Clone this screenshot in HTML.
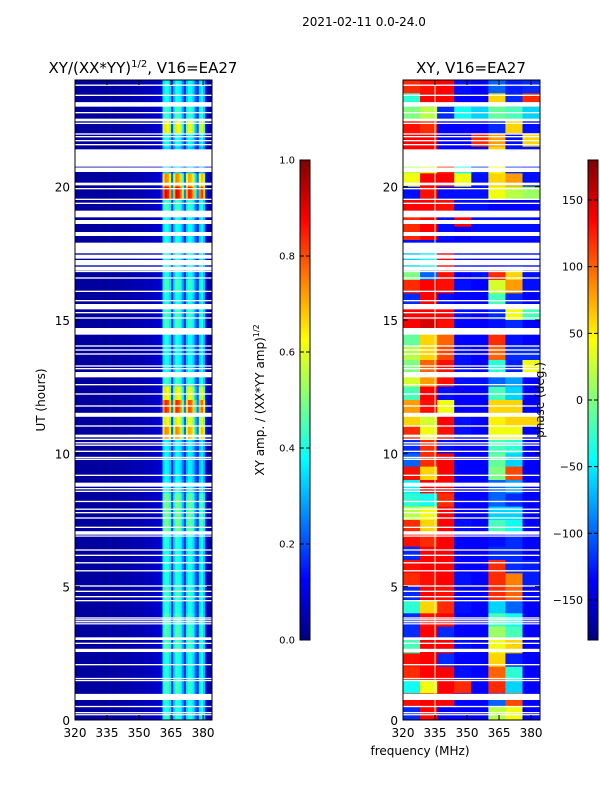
<!DOCTYPE html>
<html><head><meta charset="utf-8">
<style>
body{margin:0;background:#fff;}
svg{display:block;font-family:"DejaVu Sans","Liberation Sans",sans-serif;}
</style></head>
<body>
<svg id="fig" width="600" height="800" viewBox="0 0 600 800">
<text x="364" y="26" font-size="12" text-anchor="middle">2021-02-11 0.0-24.0</text>
<text x="143" y="73" font-size="15" text-anchor="middle">XY/(XX*YY)<tspan font-size="10" dy="-6">1/2</tspan><tspan dy="6">, V16=EA27</tspan></text>
<text x="471" y="73" font-size="15" text-anchor="middle">XY, V16=EA27</text>
<g id="left"></g>
<g id="right"></g>
<g id="axes"></g>
<text transform="translate(45,400) rotate(-90)" font-size="12" text-anchor="middle">UT (hours)</text>
<text x="420" y="755" font-size="12" text-anchor="middle">frequency (MHz)</text>
<text transform="translate(264,400) rotate(-90)" font-size="12" text-anchor="middle">XY amp. / (XX*YY amp)<tspan font-size="8" dy="-5">1/2</tspan></text>
<text transform="translate(544,400) rotate(-90)" font-size="12" text-anchor="middle">phase (deg.)</text>
</svg>
<script>
// ---------- data ----------
const hourRange = [0, 24];
const freqRange = [320, 384.2];
const xTicks = [320, 335, 350, 365, 380];
const yTicks = [0, 5, 10, 15, 20];
const ampTicks = ['0.0','0.2','0.4','0.6','0.8','1.0'];
const phaseTicks = [-150,-100,-50,0,50,100,150];
// amplitude: 1-MHz channels from 320
const ampBase = [0.03,0.03,0.03,0.03,0.03,0.03,0.03,0.03,0.03,0.03,0.03,0.03,0.03,0.03,0.03,0.03,0.05,0.03,0.03,0.03,0.04,0.04,0.04,0.04,0.04,0.04,0.05,0.05,0.05,0.05,0.05,0.05,0.06,0.06,0.06,0.06,0.06,0.07,0.07,0.08,0.08,0.1,0.1,0.1,0.1,0.1,0.1,0.1,0.1,0.1,0.1,0.1,0.1,0.1,0.1,0.1,0.1,0.1,0.1,0.1,0.06,0.04,0.03,0.03];
const ampBand = [0,0,0,0,0,0,0,0,0,0,0,0,0,0,0,0,0,0,0,0,0,0,0,0,0,0,0,0,0,0,0,0,0,0,0,0,0,0,0,0,0.1,0.85,1,0.95,0.75,0.2,0.75,1,0.95,0.85,0.55,0.2,0.75,0.95,0.9,0.75,0.4,0.2,0.8,0.9,0.75,0.15,0.03,0];
// band amplitude per half-hour row, from 24h down to 0h
const ampRow = [0.3,0.3,0.35,0.55,0.3,0.25,0.25,0.65,0.8,0.35,0.3,0.3,0.3,0.3,0.3,0.35,0.3,0.35,0.35,0.3,0.3,0.3,0.35,0.55,0.75,0.55,0.65,0.28,0.28,0.28,0.3,0.4,0.4,0.4,0.32,0.32,0.32,0.32,0.35,0.32,0.35,0.36,0.36,0.32,0.32,0.35,0.32,0.32];
// phase (deg) per half-hour row (24h->0h) x 8 MHz channel
const phaseGrid = [
[120,130,135,-130,-135,-100,-125,-120],
[-30,135,135,-135,-135,60,-120,120],
[0,20,-120,-40,-60,-10,-20,-60],
[130,120,-135,-135,-135,-120,60,-130],
[135,135,-135,-135,120,80,-130,60],
[135,135,-135,-135,-135,60,-130,-130],
[20,30,120,-40,-120,40,-120,-130],
[40,135,135,40,-130,60,80,-130],
[-130,130,-130,-130,-130,40,20,10],
[135,135,130,-130,-130,-135,-135,-135],
[120,135,-130,135,-130,-130,-130,-130],
[120,135,-130,-135,-130,-130,-130,-130],
[-130,-130,-135,-135,-135,-135,-135,-135],
[-60,-40,135,-130,-135,-135,-135,-135],
[0,-100,130,-135,-130,120,60,-130],
[120,135,130,-130,-135,30,80,-130],
[-120,135,-130,-135,-135,-20,-120,-135],
[135,135,135,-130,-135,-120,40,-20],
[135,150,130,-135,-135,-130,-120,-135],
[-10,60,100,-135,-135,120,-130,-135],
[20,60,110,-130,-135,100,-120,-120],
[0,100,130,-130,-135,-30,-125,40],
[30,80,130,-130,-130,-100,-80,-135],
[-20,135,-130,-135,-135,-20,-60,-135],
[80,130,40,-135,-135,60,60,-135],
[60,30,135,-130,-135,50,60,60],
[120,40,130,-130,-135,40,40,-135],
[-120,120,-130,-135,-135,-20,-30,-135],
[-100,120,135,-135,-135,-10,-60,-135],
[130,60,135,-135,-135,0,110,-135],
[-50,135,135,-135,-135,-100,-80,-135],
[-30,-40,120,-135,-135,-100,-120,-135],
[20,40,135,-135,-135,-60,-60,-135],
[120,60,135,-130,-135,-20,-40,-135],
[130,120,135,-135,-135,-130,-120,-135],
[-120,135,135,-135,-135,-120,-120,-135],
[130,135,135,-135,-135,120,-120,-125],
[120,130,135,-130,-135,120,90,-125],
[-120,135,130,-135,-135,120,100,-135],
[-30,60,120,-130,-135,-60,-100,-135],
[-120,130,135,-135,-135,-20,-40,-135],
[-120,135,-120,-135,-135,10,-20,-135],
[-20,135,135,-130,-135,40,60,-135],
[130,135,-120,-135,-135,60,-125,-135],
[120,135,135,-130,-135,100,-30,-135],
[-40,40,135,120,-135,120,-60,-135],
[130,135,135,-135,-135,-100,110,-135],
[-120,135,-135,-135,-135,20,40,-135]];
// flagged (blank) time ranges in hours [start, end]
const gaps = [[23.78,23.83],[23.4,23.45],[23.0,23.17],[22.75,22.8],[22.5,22.55],[22.45,22.5],[22.35,22.4],[21.95,22.0],[21.85,21.9],[21.7,21.75],[21.55,21.6],[20.75,21.4],[20.55,20.72],[20.05,20.15],[19.9,19.95],[19.5,19.55],[19.35,19.4],[18.85,19.1],[18.6,18.75],[18.15,18.3],[17.5,17.9],[17.3,17.45],[17.05,17.25],[16.85,17.0],[16.8,16.84],[16.55,16.6],[16.05,16.1],[15.7,15.75],[15.4,15.6],[15.25,15.3],[15.05,15.1],[14.65,14.7],[14.45,14.7],[14.0,14.05],[13.85,13.9],[13.7,13.75],[13.25,13.3],[13.15,13.2],[12.85,13.05],[12.55,12.6],[12.2,12.25],[11.75,11.8],[11.37,11.52],[11.0,11.05],[10.6,10.7],[10.5,10.55],[10.37,10.42],[10.28,10.33],[10.05,10.1],[9.82,9.87],[9.75,9.8],[9.15,9.2],[8.75,8.9],[8.65,8.7],[8.55,8.6],[8.17,8.22],[7.88,7.93],[7.75,7.8],[7.55,7.6],[7.2,7.25],[6.95,7.08],[6.88,6.92],[6.35,6.4],[6.15,6.2],[5.87,5.92],[5.57,5.62],[5.0,5.05],[4.8,4.85],[4.6,4.65],[4.45,4.5],[3.8,3.85],[3.75,3.78],[3.66,3.71],[3.6,3.63],[3.0,3.1],[2.85,2.9],[2.55,2.67],[2.05,2.1],[1.53,1.58],[1.48,1.5],[0.75,0.98],[0.48,0.53],[0.25,0.3],[0.18,0.22]];

// ---------- helpers ----------
const NS='http://www.w3.org/2000/svg';
const PT=80, PB=720;
const LX0=75, LX1=212, RX0=403, RX1=540;
function yScale(h){return PB-(h-hourRange[0])/(hourRange[1]-hourRange[0])*(PB-PT);}
function xScaleL(f){return LX0+(f-freqRange[0])/(freqRange[1]-freqRange[0])*(LX1-LX0);}
function xScaleR(f){return RX0+(f-freqRange[0])/(freqRange[1]-freqRange[0])*(RX1-RX0);}
function cl(v){return Math.max(0,Math.min(1,v));}
function jet(v){v=cl(v);const r=cl(1.5-Math.abs(4*v-3)),g=cl(1.5-Math.abs(4*v-2)),b=cl(1.5-Math.abs(4*v-1));
 return 'rgb('+Math.round(r*255)+','+Math.round(g*255)+','+Math.round(b*255)+')';}
function rect(parent,x,y,w,h,fill){const r=document.createElementNS(NS,'rect');
 r.setAttribute('x',x);r.setAttribute('y',y);r.setAttribute('width',w);r.setAttribute('height',h);r.setAttribute('fill',fill);parent.appendChild(r);return r;}
function line(parent,x1,y1,x2,y2,stroke,w){const l=document.createElementNS(NS,'line');
 l.setAttribute('x1',x1);l.setAttribute('y1',y1);l.setAttribute('x2',x2);l.setAttribute('y2',y2);l.setAttribute('stroke',stroke);l.setAttribute('stroke-width',w||1);parent.appendChild(l);return l;}
function text(parent,x,y,s,anchor){const t=document.createElementNS(NS,'text');
 t.setAttribute('x',x);t.setAttribute('y',y);t.setAttribute('font-size','12');t.setAttribute('text-anchor',anchor);t.textContent=s;parent.appendChild(t);return t;}

// ---------- left heatmap ----------
const L=document.getElementById('left');
const nRows=ampRow.length, rowH=(hourRange[1]-hourRange[0])/nRows;
for(let r=0;r<nRows;r++){
 const h1=hourRange[1]-r*rowH, h0=h1-rowH;
 for(let c=0;c<ampBase.length;c++){
  const f0=freqRange[0]+c, f1=Math.min(f0+1,freqRange[1]);
  const v=ampBase[c]+ampRow[r]*ampBand[c];
  const el=rect(L,xScaleL(f0),yScale(h1),xScaleL(f1)-xScaleL(f0)+0.4,yScale(h0)-yScale(h1)+0.4,jet(v));
  
  
 }
}
// ---------- right heatmap ----------
const R=document.getElementById('right');
const chW=8;
for(let r=0;r<phaseGrid.length;r++){
 const h1=hourRange[1]-r*rowH, h0=h1-rowH;
 for(let c=0;c<phaseGrid[r].length;c++){
  const f0=freqRange[0]+c*chW, f1=Math.min(f0+chW,freqRange[1]);
  const v=(phaseGrid[r][c]+180)/360;
  const el=rect(R,xScaleR(f0),yScale(h1),xScaleR(f1)-xScaleR(f0)+0.4,yScale(h0)-yScale(h1)+0.4,jet(v));
  
  
 }
}
const vl=line(R,xScaleR(335),PT,xScaleR(335),PB,'#f0f0d0',1);


// gaps
for(const g of gaps){
 const y1=yScale(Math.max(g[0],g[1])), y0=yScale(Math.min(g[0],g[1]));
 const a=rect(L,LX0,y1,LX1-LX0,Math.max(1.2,y0-y1),'#fff');
 
 
 const b=rect(R,RX0,y1,RX1-RX0,Math.max(1.2,y0-y1),'#fff');
 
 
}
// ---------- axes ----------
const A=document.getElementById('axes');
[[LX0,LX1,xScaleL],[RX0,RX1,xScaleR]].forEach(([x0,x1,xs])=>{
 const fr=rect(A,x0,PT,x1-x0,PB-PT,'none');fr.setAttribute('stroke','#000');fr.setAttribute('stroke-width','1');
 
 
 xTicks.forEach(t=>{const x=xs(t);line(A,x,PB,x,PB-5,'#000');line(A,x,PT,x,PT+5,'#000');
  const lb=text(A,x,PB+17,String(t),'middle');
  
  });
 yTicks.forEach(t=>{const y=yScale(t);line(A,x0,y,x0+5,y,'#000');line(A,x1,y,x1-5,y,'#000');
  const lb=text(A,x0-5,y+5,String(t),'end');
  
  });
});
// ---------- colorbars ----------
const defs=document.createElementNS(NS,'defs');document.getElementById('fig').appendChild(defs);
const grad=document.createElementNS(NS,'linearGradient');grad.setAttribute('id','jetg');
grad.setAttribute('x1','0');grad.setAttribute('y1','1');grad.setAttribute('x2','0');grad.setAttribute('y2','0');
for(let i=0;i<=40;i++){const s=document.createElementNS(NS,'stop');s.setAttribute('offset',i/40);s.setAttribute('stop-color',jet(i/40));grad.appendChild(s);}
defs.appendChild(grad);
const CT=160, CB=640;
[[300,'amp-colorbar'],[588,'phase-colorbar']].forEach(([x,n])=>{
 const cb=rect(A,x,CT,10,CB-CT,'url(#jetg)');cb.setAttribute('stroke','#000');
 
 
});
ampTicks.forEach((t,i)=>{const y=CB-(CB-CT)*i/(ampTicks.length-1);
 line(A,300,y,304,y,'#000');line(A,310,y,306,y,'#000');
 const lb=document.createElementNS(NS,'text');lb.setAttribute('x',295);lb.setAttribute('y',y+3.5);lb.setAttribute('font-size','10');lb.setAttribute('text-anchor','end');lb.textContent=t;A.appendChild(lb);
 
 });
phaseTicks.forEach(t=>{const y=(CT+CB)/2-t/360*(CB-CT);
 line(A,588,y,592,y,'#000');line(A,598,y,594,y,'#000');
 const lb=document.createElementNS(NS,'text');lb.setAttribute('x',583);lb.setAttribute('y',y+4);lb.setAttribute('font-size','11');lb.setAttribute('text-anchor','end');lb.textContent=(t<0?'\u2212'+(-t):String(t));A.appendChild(lb);
 
 });
</script>
</body></html>
